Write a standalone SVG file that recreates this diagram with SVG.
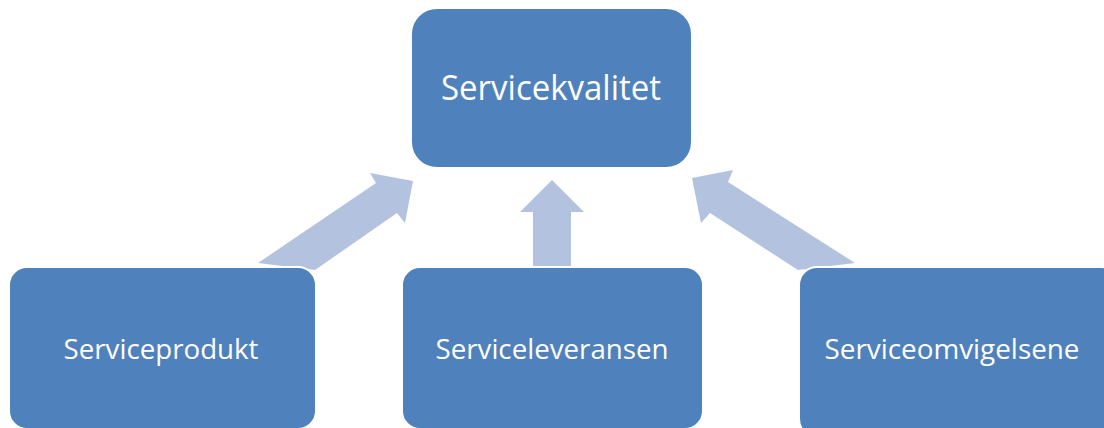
<svg xmlns="http://www.w3.org/2000/svg" width="1104" height="428" viewBox="0 0 1104 428">
<style>
.box{fill:#4F81BD;stroke:#FFFFFF;stroke-width:2}
.arrow{fill:#B3C3DF}
.lbl{fill:#FFFFFF;font-family:"Open Sans","Noto Sans",sans-serif;text-anchor:middle}
.big{font-size:35px}
.small{font-size:28px}
</style>
<rect width="1104" height="428" fill="#FFFFFF"/>
<g id="connectors">
<polygon class="arrow" points="258,263 376,183 370,173 413,181 405,223 397,213 315,270"/>
<polygon class="arrow" points="552,180 584,212 571,212 571,266 533,266 533,212 520,212"/>
<polygon class="arrow" points="692,178 733,170 728,182 855,263 798,270 710,213 701,223"/>
</g>
<g id="node-top">
<rect class="box" x="411" y="8" width="281" height="160" rx="26" ry="26"/>
<text class="lbl big" x="551" y="100" textLength="220" lengthAdjust="spacingAndGlyphs">Servicekvalitet</text>
</g>
<g id="node-left">
<rect class="box" x="9" y="267" width="307" height="162" rx="18" ry="18"/>
<text class="lbl small" x="161" y="359" textLength="195" lengthAdjust="spacingAndGlyphs">Serviceprodukt</text>
</g>
<g id="node-middle">
<rect class="box" x="402" y="267" width="301" height="162" rx="18" ry="18"/>
<text class="lbl small" x="552" y="359" textLength="233" lengthAdjust="spacingAndGlyphs">Serviceleveransen</text>
</g>
<g id="node-right">
<rect class="box" x="799" y="267" width="320" height="170" rx="18" ry="18"/>
<text class="lbl small" x="952" y="359" textLength="255" lengthAdjust="spacingAndGlyphs">Serviceomvigelsene</text>
</g>
</svg>
